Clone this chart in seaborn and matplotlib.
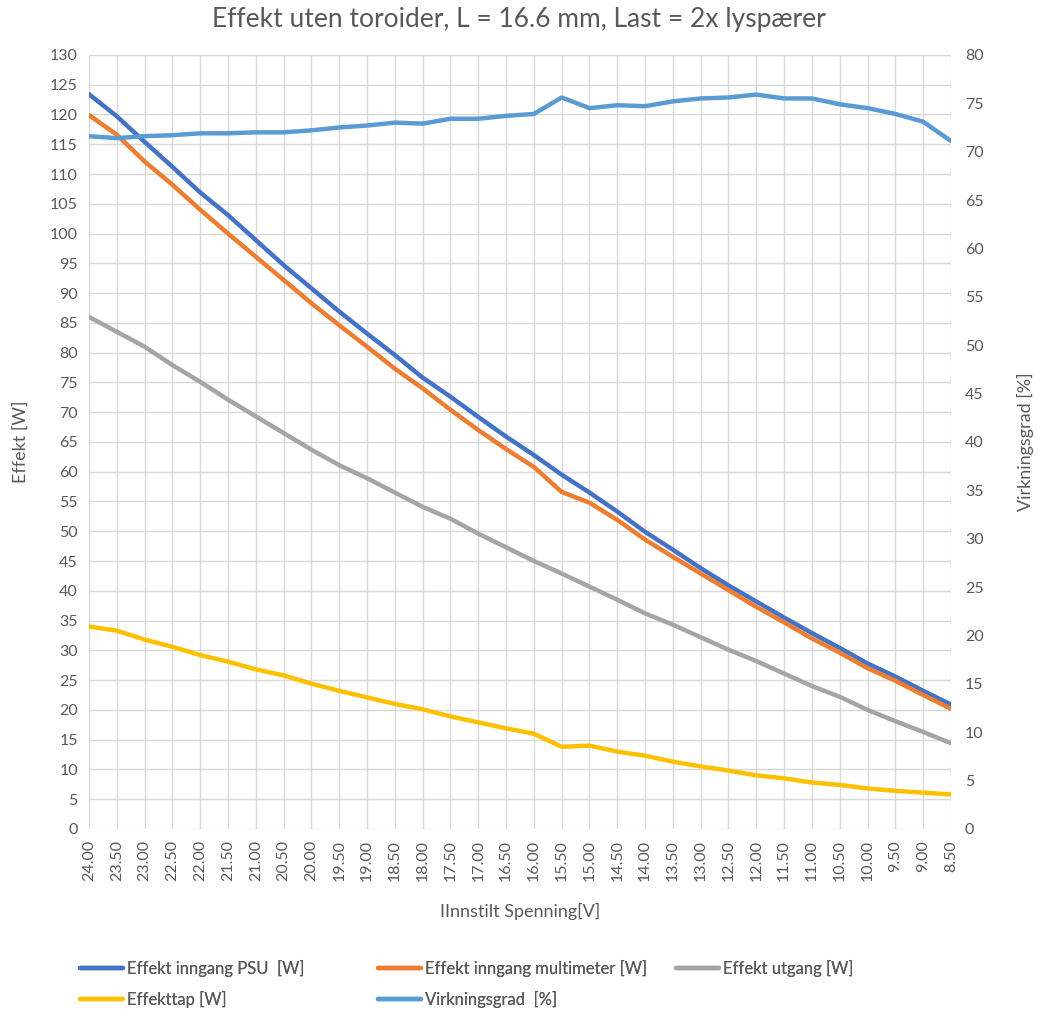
import numpy as np
import pandas as pd
import matplotlib
matplotlib.use("Agg")
import matplotlib.pyplot as plt
import seaborn as sns

# data
spenning = ["24.00", "23.50", "23.00", "22.50", "22.00", "21.50", "21.00", "20.50",
            "20.00", "19.50", "19.00", "18.50", "18.00", "17.50", "17.00", "16.50",
            "16.00", "15.50", "15.00", "14.50", "14.00", "13.50", "13.00", "12.50",
            "12.00", "11.50", "11.00", "10.50", "10.00", "9.50", "9.00", "8.50"]

effekt_psu = [123.4, 119.7, 115.4, 111.2, 106.9, 103.1, 98.9, 94.7,
              90.8, 86.9, 83.2, 79.6, 75.8, 72.6, 69.2, 65.9,
              62.8, 59.5, 56.5, 53.3, 49.9, 46.9, 43.8, 40.9,
              38.2, 35.5, 32.9, 30.4, 27.8, 25.6, 23.2, 20.9]

effekt_multimeter = [119.9, 116.6, 112.1, 108.2, 104.0, 100.0, 96.1, 92.2,
                     88.3, 84.6, 81.0, 77.3, 74.0, 70.4, 67.0, 63.8,
                     60.8, 56.6, 54.8, 51.9, 48.6, 45.7, 42.9, 40.1,
                     37.3, 34.7, 32.0, 29.6, 27.0, 24.9, 22.5, 20.2]

effekt_utgang = [86.0, 83.5, 81.0, 77.9, 75.1, 72.1, 69.3, 66.5,
                 63.7, 61.1, 58.9, 56.5, 54.1, 52.1, 49.6, 47.3,
                 45.0, 42.9, 40.7, 38.5, 36.2, 34.3, 32.2, 30.1,
                 28.2, 26.1, 24.0, 22.2, 20.0, 18.1, 16.3, 14.4]

effekttap = [34.0, 33.3, 31.8, 30.6, 29.2, 28.1, 26.8, 25.8,
             24.4, 23.2, 22.1, 21.0, 20.1, 18.9, 17.9, 16.9,
             16.0, 13.8, 14.0, 13.0, 12.3, 11.3, 10.5, 9.8,
             9.0, 8.5, 7.8, 7.4, 6.8, 6.4, 6.1, 5.8]

virkningsgrad = [71.6, 71.4, 71.6, 71.7, 71.9, 71.9, 72.0, 72.0,
                 72.2, 72.5, 72.7, 73.0, 72.9, 73.4, 73.4, 73.7,
                 73.9, 75.6, 74.5, 74.8, 74.7, 75.2, 75.5, 75.6,
                 75.9, 75.5, 75.5, 74.9, 74.5, 73.9, 73.1, 71.1]

left_series = [
    ("Effekt inngang PSU  [W]", effekt_psu, "#4472C4"),
    ("Effekt inngang multimeter [W]", effekt_multimeter, "#ED7D31"),
    ("Effekt utgang [W]", effekt_utgang, "#A5A5A5"),
    ("Effekttap [W]", effekttap, "#FFC000"),
]

text_col = "#595959"
grid_col = "#D9D9D9"

sns.set_style("white")
plt.rcParams["font.family"] = ["Lato", "DejaVu Sans"]

fig = plt.figure(figsize=(10.37, 10.17), dpi=100)
ax = fig.add_axes([0.0858, 0.1849, 0.8312, 0.7611])
ax2 = ax.twinx()

x = np.arange(len(spenning))
for name, vals, col in left_series:
    df = pd.DataFrame({"x": x, "y": vals})
    sns.lineplot(data=df, x="x", y="y", ax=ax, color=col, lw=3.2, label=name,
                 legend=False, solid_capstyle="round")

df_v = pd.DataFrame({"x": x, "y": virkningsgrad})
sns.lineplot(data=df_v, x="x", y="y", ax=ax2, color="#5B9BD5", lw=3.2,
             label="Virkningsgrad  [%]", legend=False, solid_capstyle="round")

ax.set_xlim(0, len(spenning) - 1)
ax.set_ylim(0, 130)
ax.set_yticks(np.arange(0, 131, 5))
ax2.set_ylim(0, 80)
ax2.set_yticks(np.arange(0, 81, 5))
ax.set_xticks(x)
ax.set_xticklabels(spenning, rotation=90)

ax.grid(True, color=grid_col, lw=1)
ax.set_axisbelow(True)
for a in (ax, ax2):
    for s in a.spines.values():
        s.set_visible(False)
    a.tick_params(length=0, colors=text_col, labelsize=11.5)
ax.tick_params(axis="x", pad=8)
ax.tick_params(axis="y", pad=8)
ax2.tick_params(axis="y", pad=10)

ax.set_xlabel("IInnstilt Spenning[V]", color=text_col, fontsize=13)
ax.set_ylabel("Effekt [W]", color=text_col, fontsize=13)
ax2.set_ylabel("Virkningsgrad [%]", color=text_col, fontsize=13)
ax.xaxis.set_label_coords(0.5, -0.0956)
ax.yaxis.set_label_coords(-0.0696, 0.5)
ax2.yaxis.set_label_coords(1.0766, 0.5)
fig.suptitle("Effekt uten toroider, L = 16.6 mm, Last = 2x lyspærer",
             color=text_col, fontsize=19, y=0.993)

h1, l1 = ax.get_legend_handles_labels()
h2, l2 = ax2.get_legend_handles_labels()
handles = h1 + h2
labels = l1 + l2

# three legend columns placed like the excel legend
columns = [(0.077, [0, 3]), (0.3645, [1, 4]), (0.652, [2])]
for xpos, idx in columns:
    leg = fig.legend([handles[i] for i in idx], [labels[i] for i in idx],
                     loc="upper left", bbox_to_anchor=(xpos, 0.056), frameon=False,
                     fontsize=12, labelcolor=text_col, handlelength=2.6,
                     handletextpad=0.2, labelspacing=0.85, borderpad=0,
                     borderaxespad=0)
    fig.add_artist(leg)

fig.savefig("out.png", dpi=100)
